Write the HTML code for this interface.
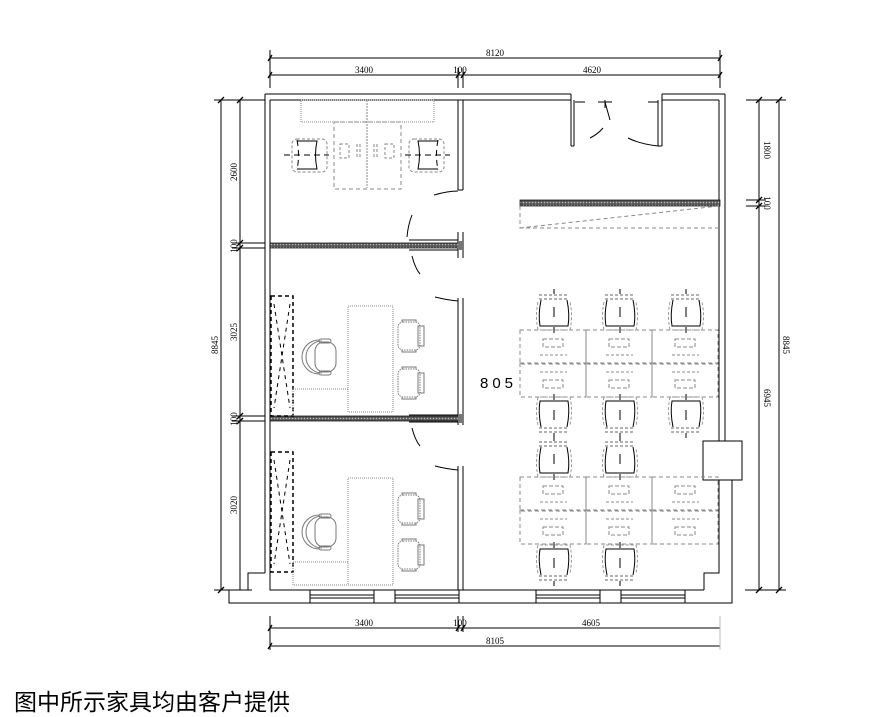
<!DOCTYPE html>
<html><head><meta charset="utf-8"><style>
html,body{margin:0;padding:0;background:#fff;width:876px;height:716px;overflow:hidden}
svg{display:block}
.t{font-family:"Liberation Serif",serif;font-size:9px;fill:#000}
.cap{position:absolute;left:14px;top:683px;font-family:"Liberation Sans","Noto Sans CJK SC",sans-serif;font-size:23px;color:#000}
</style></head><body>
<svg width="876" height="716" viewBox="0 0 876 716" xmlns="http://www.w3.org/2000/svg">
<defs>
<pattern id="hat" width="3" height="3" patternUnits="userSpaceOnUse"><rect width="3" height="3" fill="#555"/><circle cx="1.5" cy="1.5" r="0.8" fill="#bbb"/></pattern>
<g id="chD">
<path d="M-15,-2 h30" stroke="#666" stroke-dasharray="3,2" fill="none"/>
<path d="M-15,2 h30" stroke="#666" stroke-dasharray="3,2" fill="none"/>
<path d="M-13,3 q-3,15 -1,26 h28 q2,-11 -1,-26" stroke="#000" fill="none" stroke-width="1"/>
<path d="M-16,5 q-3,14 0,28 h32 q3,-14 0,-28" stroke="#999" fill="none" stroke-dasharray="3,2"/>
<path d="M0,-8 v5 M0,10 v10 M0,30 v6" stroke="#000"/>
</g>
<g id="chU"><use href="#chD" transform="scale(1,-1)"/></g>
<g id="ws">
<rect x="0" y="0" width="66" height="34" fill="none" stroke="#888" stroke-dasharray="4,3"/>
<rect x="23" y="9" width="20" height="8" fill="none" stroke="#888" stroke-dasharray="4,2"/>
<path d="M20,25 h27" stroke="#888" stroke-dasharray="3,2"/>
</g>
<g id="ws2">
<rect x="0" y="0" width="66" height="34" fill="none" stroke="#888" stroke-dasharray="4,3"/>
<rect x="23" y="17" width="20" height="8" fill="none" stroke="#888" stroke-dasharray="4,2"/>
<path d="M20,9 h27" stroke="#888" stroke-dasharray="3,2"/>
</g>
<g id="arm">
<rect x="0" y="0" width="22" height="28" rx="5" fill="none" stroke="#777" stroke-dasharray="1.5,1"/>
<rect x="20" y="4" width="6" height="20" fill="none" stroke="#777"/>
<path d="M4,0 v-2 h14 v2 M4,28 v2 h14 v-2" stroke="#777" fill="none"/>
</g>
<g id="boss">
<path d="M14,-17 a17,17 0 0,0 0,34" fill="none" stroke="#777"/>
<path d="M17,-16 a16,16 0 0,0 0,32" fill="none" stroke="#777"/>
<rect x="10" y="-15" width="21" height="30" rx="9" fill="none" stroke="#777"/>
<rect x="14" y="-18" width="12" height="4" rx="2" fill="none" stroke="#777"/>
<rect x="14" y="14" width="12" height="4" rx="2" fill="none" stroke="#777"/>
</g>
<g id="cab">
<rect x="0" y="0" width="22" height="120" fill="none" stroke="#000" stroke-dasharray="4,3" stroke-width="1.5"/>
<path d="M3,8 L19,112 M19,8 L3,112" stroke="#000" stroke-dasharray="4,4"/>
</g>
</defs>

<g stroke="#000" fill="none" stroke-width="1">
<path d="M270,58 H720 M270,75 H720 M270,50 V88 M720,50 V88 M458,68 V88 M463,68 V88"/>
<path d="M268,61 l4,-6 M718,61 l4,-6 M268,78 l4,-6 M456,78 l4,-6 M461,78 l4,-6 M718,78 l4,-6" stroke-width="1.3"/>
<path d="M270,628 H720 M270,646 H720 M270,616 V650 M458,616 V632 M463,616 V632"/>
<path d="M720,616 V650" stroke="#bbb"/>
<path d="M268,631 l4,-6 M268,649 l4,-6 M456,631 l4,-6 M461,631 l4,-6" stroke-width="1.3"/>
<path d="M221,100 V590 M240,100 V590 M214,100 H265 M214,590 H252 M232,243 H265 M232,248 H265 M232,416 H265 M232,421 H265"/>
<path d="M218,103 l6,-6 M237,103 l6,-6 M218,593 l6,-6 M237,246 l6,-6 M237,251 l6,-6 M237,419 l6,-6 M237,424 l6,-6" stroke-width="1.3"/>
<path d="M759,100 V590 M779,100 V590 M746,100 H786 M745,590 H786 M746,200 H766 M746,206 H766"/>
<path d="M756,103 l6,-6 M776,103 l6,-6 M756,593 l6,-6 M776,593 l6,-6 M756,203 l6,-6 M756,209 l6,-6" stroke-width="1.3"/>

<path d="M265,94 H571 M265,94 V573 M270,100 V573 M270,100 H571"/>
<path d="M571,94 V146 M574,100 V146 M571,146 H574"/>
<path d="M662,94 H725 M662,100 H719 M662,94 V146 M658,100 V146 M658,146 H662"/>
<path d="M725,94 V441 M719,100 V441"/>
<path d="M719,480 V573 H704 V590 M732,480 V603 H229 V590 H248 V573 H265 M270,573 V590 H704"/>
<rect x="703" y="441" width="39" height="39"/>
<path d="M310,590 V603 M374,590 V603 M310,595 H374 M310,598 H374 M395,590 V603 M459,590 V603 M395,595 H459 M395,598 H459 M536,590 V603 M600,590 V603 M536,595 H600 M536,598 H600 M621,590 V603 M685,590 V603 M621,595 H685 M621,598 H685"/>
<path d="M575,102 H585 M598,102 H612 M648,102 H658 M605,100 V108 M605,102 l5,18 M590,138 q8,-4 13,-10 M628,138 q12,6 30,8"/>
<path d="M458,100 V190 M463,100 V190 M458,190 H463"/>
<path d="M458,232 V258 M463,232 V258"/>
<path d="M458,298 V425 M463,298 V425"/>
<path d="M458,466 V590 M463,466 V590"/>
<path d="M434,195 q14,-4 24,-4 M412,215 q-4,10 -5,22 M409,240 H458 M409,250 H458 M412,256 q3,12 8,18 M435,297 q12,3 23,4"/>
<path d="M409,415 H458 M409,422 H458 M412,428 q3,12 8,18 M435,466 q12,3 23,4"/>
</g>
<rect x="270" y="243" width="193" height="5" fill="url(#hat)" stroke="#000" stroke-width="0.7"/>
<rect x="270" y="416" width="193" height="5" fill="url(#hat)" stroke="#000" stroke-width="0.7"/>
<rect x="520" y="200" width="200" height="6" fill="url(#hat)" stroke="#000" stroke-width="0.7"/>
<rect x="458" y="241" width="5" height="9" fill="#777"/>
<rect x="458" y="414" width="5" height="9" fill="#777"/>
<path d="M520,206 V228 H719 M520,228 L719,206" fill="none" stroke="#888" stroke-dasharray="4,3"/>

<g fill="none" stroke="#888">
<rect x="301" y="100" width="133" height="22" stroke-dasharray="1,1"/>
<path d="M367,100 V188" stroke-dasharray="2,1"/>
<rect x="334" y="122" width="67" height="67" stroke-dasharray="4,3"/>
<rect x="340" y="144" width="9" height="14" stroke-dasharray="3,2"/>
<rect x="385" y="144" width="9" height="14" stroke-dasharray="3,2"/>
<path d="M357,144 v14 M360,144 v14 M374,144 v14 M377,144 v14" stroke-dasharray="3,2"/>
<rect x="292" y="139" width="35" height="33" rx="5" stroke-dasharray="3,2"/>
<rect x="409" y="139" width="35" height="33" rx="5" stroke-dasharray="3,2"/>
</g>
<path d="M297,140 q3,15 0,30 M438,140 q-3,15 0,30 M284,155 h45 M405,155 h45" fill="none" stroke="#000" stroke-dasharray="6,4"/>
<path d="M297,141 h20 q-3,14 0,28 h-20 M438,141 h-20 q3,14 0,28 h20" fill="none" stroke="#000"/>

<use href="#cab" x="271" y="296"/>
<use href="#cab" x="271" y="452"/>
<g fill="none" stroke="#888" stroke-dasharray="1,1">
<rect x="348" y="306" width="45" height="106"/>
<path d="M293,389 H348 M293,389 V416"/>
<rect x="348" y="478" width="45" height="107"/>
<path d="M293,562 H348 M293,562 V585 H348"/>
</g>
<use href="#boss" x="305" y="357"/>
<use href="#boss" x="305" y="532"/>
<use href="#arm" x="398" y="322"/>
<use href="#arm" x="398" y="369"/>
<use href="#arm" x="398" y="495"/>
<use href="#arm" x="398" y="541"/>

<use href="#ws" x="520" y="330"/><use href="#ws" x="586" y="330"/><use href="#ws" x="652" y="330"/>
<use href="#ws2" x="520" y="363"/><use href="#ws2" x="586" y="363"/><use href="#ws2" x="652" y="363"/>
<use href="#ws" x="520" y="477"/><use href="#ws" x="586" y="477"/><use href="#ws" x="652" y="477"/>
<use href="#ws2" x="520" y="510"/><use href="#ws2" x="586" y="510"/><use href="#ws2" x="652" y="510"/>
<use href="#chD" x="554" y="297"/><use href="#chD" x="620" y="297"/><use href="#chD" x="686" y="297"/>
<use href="#chU" x="554" y="430"/><use href="#chU" x="620" y="430"/><use href="#chU" x="686" y="430"/>
<use href="#chD" x="554" y="444"/><use href="#chD" x="620" y="444"/>
<use href="#chU" x="554" y="578"/><use href="#chU" x="620" y="578"/>

<text class="t" x="495" y="56" text-anchor="middle">8120</text>
<text class="t" x="364" y="73" text-anchor="middle">3400</text>
<text class="t" x="460" y="73" text-anchor="middle">100</text>
<text class="t" x="592" y="73" text-anchor="middle">4620</text>
<text class="t" x="364" y="626" text-anchor="middle">3400</text>
<text class="t" x="460" y="626" text-anchor="middle">100</text>
<text class="t" x="591" y="626" text-anchor="middle">4605</text>
<text class="t" x="495" y="644" text-anchor="middle">8105</text>
<g class="t">
<text transform="translate(218,345) rotate(-90)" text-anchor="middle">8845</text>
<text transform="translate(237,172) rotate(-90)" text-anchor="middle">2600</text>
<text transform="translate(237,246) rotate(-90)" text-anchor="middle">100</text>
<text transform="translate(237,332) rotate(-90)" text-anchor="middle">3025</text>
<text transform="translate(237,419) rotate(-90)" text-anchor="middle">100</text>
<text transform="translate(237,505) rotate(-90)" text-anchor="middle">3020</text>
<text transform="translate(764,150) rotate(90)" text-anchor="middle">1800</text>
<text transform="translate(764,203) rotate(90)" text-anchor="middle">100</text>
<text transform="translate(764,398) rotate(90)" text-anchor="middle">6945</text>
<text transform="translate(783,345) rotate(90)" text-anchor="middle">8845</text>
</g>
<text x="480" y="388" font-family="Liberation Sans, sans-serif" font-size="15" letter-spacing="4">805</text>
</svg>
<div class="cap">图中所示家具均由客户提供</div>
</body></html>
